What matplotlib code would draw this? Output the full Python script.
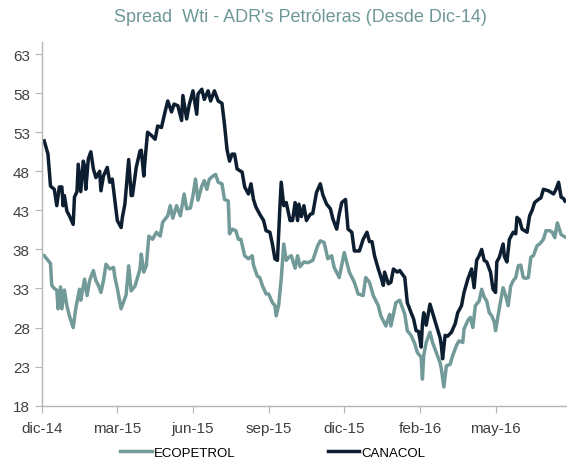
import matplotlib
matplotlib.use("Agg")
import matplotlib.pyplot as plt

# x = trading day since start of Dec-14
tick_days = [0, 60, 120, 180, 240, 300, 360]
tick_labels = ["dic-14", "mar-15", "jun-15", "sep-15", "dic-15", "feb-16", "may-16"]

canacol_day = [2, 5, 7, 10, 12, 14, 16, 17, 18, 20, 22, 25, 26, 28, 29, 31, 33, 34, 35, 37,
               39, 41, 43, 46, 47, 49, 52, 54, 56, 58, 60, 63, 64, 66, 69, 71, 72, 75, 78, 79,
               81, 82, 84, 87, 90, 92, 95, 98, 100, 103, 105, 108, 111, 112, 115, 117, 120, 123,
               124, 127, 129, 132, 134, 137, 140, 143, 145, 147, 149, 151, 153, 155, 159, 161,
               164, 166, 168, 170, 173, 176, 178, 181, 183, 185, 187, 189, 190, 192, 194, 197,
               199, 201, 203, 204, 206, 208, 210, 213, 215, 218, 221, 223, 226, 229, 231, 234,
               236, 238, 241, 243, 246, 248, 252, 255, 258, 260, 262, 264, 267, 269, 271, 272,
               275, 277, 279, 282, 284, 288, 290, 293, 295, 297, 299, 301, 302, 303, 305, 308,
               310, 313, 316, 317, 318, 320, 322, 325, 328, 330, 333, 335, 338, 341, 343, 345,
               347, 349, 351, 353, 356, 358, 360, 361, 363, 366, 367, 369, 371, 374, 376, 377,
               379, 381, 385, 387, 389, 391, 394, 396, 398, 402, 406, 408, 410, 412, 414, 415]
canacol_val = [51.9, 50.2, 46.1, 45.7, 43.6, 46.0, 46.0, 43.6, 44.9, 42.9, 42.3, 41.2, 44.7, 45.4,
               48.9, 45.4, 49.3, 48.7, 45.7, 49.6, 50.5, 48.3, 47.2, 48.0, 45.5, 47.4, 48.5, 46.6,
               47.0, 44.4, 41.7, 40.8, 42.1, 43.8, 49.5, 44.9, 44.9, 48.5, 50.6, 50.7, 47.4, 49.5,
               53.0, 52.6, 52.1, 53.8, 53.6, 55.7, 57.0, 55.6, 56.6, 56.4, 54.5, 57.7, 54.7, 56.5,
               58.3, 55.3, 57.9, 58.5, 57.2, 58.3, 57.0, 58.3, 57.0, 56.7, 54.0, 50.8, 49.3, 50.2,
               50.2, 48.3, 47.9, 46.0, 45.1, 46.4, 44.4, 43.4, 42.5, 41.7, 40.4, 40.2, 38.7, 36.8,
               36.6, 43.6, 46.6, 43.6, 44.0, 41.7, 41.7, 44.0, 41.7, 43.8, 42.2, 43.6, 41.7, 42.5,
               42.6, 45.3, 46.4, 45.0, 43.8, 43.2, 41.9, 40.6, 42.5, 44.0, 44.4, 40.6, 40.2, 37.8,
               37.8, 39.3, 40.2, 39.0, 39.0, 37.2, 35.5, 34.5, 33.4, 35.1, 33.6, 33.8, 35.5, 35.1,
               35.3, 34.4, 31.2, 29.9, 29.1, 27.6, 27.5, 25.5, 28.5, 29.9, 28.3, 31.0, 29.9, 28.3,
               26.7, 25.7, 24.0, 27.0, 26.9, 27.4, 28.5, 29.9, 30.8, 32.5, 34.2, 35.5, 33.1, 36.6,
               37.2, 38.0, 36.6, 36.4, 35.1, 32.9, 32.5, 36.4, 37.0, 38.7, 37.1, 36.4, 39.3, 40.2,
               40.0, 42.1, 41.8, 40.6, 40.2, 42.3, 43.0, 44.0, 44.4, 44.6, 45.7, 45.5, 45.1, 45.7,
               46.6, 44.7, 44.5, 44.2]

ecopetrol_day = [2, 5, 7, 8, 10, 12, 13, 15, 16, 18, 20, 22, 25, 27, 30, 31, 34, 36, 38, 41,
                 43, 45, 47, 49, 51, 54, 57, 58, 60, 63, 65, 67, 69, 71, 74, 78, 79, 81, 83, 85,
                 88, 91, 94, 96, 100, 102, 104, 107, 110, 113, 115, 118, 120, 122, 124, 127, 129,
                 131, 133, 136, 138, 140, 143, 145, 148, 149, 151, 154, 156, 158, 161, 164, 167,
                 168, 171, 173, 175, 178, 180, 183, 185, 186, 188, 190, 192, 194, 196, 198, 201,
                 203, 205, 208, 211, 215, 219, 221, 224, 227, 230, 232, 236, 240, 244, 248, 251,
                 255, 257, 260, 263, 267, 269, 273, 276, 277, 281, 284, 288, 290, 293, 296, 298,
                 301, 302, 303, 305, 308, 310, 313, 316, 317, 319, 321, 324, 326, 329, 331, 334,
                 335, 338, 340, 342, 344, 347, 349, 351, 353, 355, 357, 359, 360, 362, 364, 366,
                 368, 370, 372, 374, 376, 378, 380, 382, 384, 386, 388, 390, 393, 395, 398, 400,
                 403, 405, 407, 409, 412, 414, 415]
ecopetrol_val = [37.2, 36.6, 36.2, 33.4, 33.0, 32.8, 30.4, 33.2, 30.4, 32.8, 30.8, 29.5, 28.0,
                 30.4, 32.9, 31.5, 34.2, 32.1, 34.0, 35.3, 34.0, 33.4, 32.5, 34.0, 36.1, 35.5,
                 35.7, 34.5, 33.0, 30.4, 31.3, 32.2, 35.9, 32.7, 33.3, 35.5, 37.4, 35.1, 35.9,
                 39.7, 39.3, 40.2, 39.7, 41.5, 42.3, 43.6, 42.0, 43.6, 42.3, 45.1, 43.2, 43.3,
                 44.9, 47.0, 44.3, 46.1, 46.8, 45.7, 47.0, 47.4, 47.6, 46.6, 46.4, 44.4, 44.2,
                 40.0, 40.6, 40.4, 39.3, 39.3, 37.2, 36.8, 37.2, 36.0, 34.6, 34.4, 33.4, 32.3,
                 32.3, 31.2, 30.8, 29.5, 30.9, 34.2, 38.7, 36.6, 37.0, 37.2, 35.6, 37.2, 35.8,
                 36.4, 36.3, 36.6, 38.5, 39.1, 38.9, 36.8, 37.2, 35.7, 34.4, 37.6, 35.1, 33.8,
                 32.3, 32.1, 34.4, 33.8, 32.1, 30.8, 29.5, 28.2, 29.7, 28.2, 31.2, 31.5, 29.7,
                 27.6, 27.0, 25.9, 24.8, 24.2, 21.4, 24.4, 26.1, 27.4, 26.1, 24.8, 23.5, 22.7,
                 20.4, 23.1, 23.3, 24.4, 25.7, 26.3, 26.1, 27.8, 28.9, 29.3, 28.0, 30.8, 31.4,
                 32.9, 31.9, 31.4, 29.9, 29.5, 28.7, 27.6, 29.5, 31.4, 33.1, 32.1, 30.8, 33.3,
                 34.0, 34.4, 35.9, 36.0, 34.4, 34.3, 34.4, 37.0, 37.2, 38.5, 38.7, 39.3, 40.4,
                 40.4, 40.2, 39.5, 41.4, 39.9, 39.7, 39.6]

y_ticks = [18, 23, 28, 33, 38, 43, 48, 53, 58, 63]

plt.rcParams['font.family'] = ['Liberation Sans', 'DejaVu Sans']

fig = plt.figure(figsize=(5.67, 4.64), dpi=100)
ax = fig.add_axes([0.0735, 0.1235, 0.925, 0.783])

ax.plot(ecopetrol_day, ecopetrol_val, color="#729a99", lw=2.5, label="ECOPETROL")
ax.plot(canacol_day, canacol_val, color="#0d1e31", lw=2.5, label="CANACOL")

ax.set_xlim(0, 416)
ax.set_ylim(18, 64.5)
ax.set_xticks(tick_days)
ax.set_xticklabels(tick_labels)
ax.set_yticks(y_ticks)

for s in ["top", "right"]:
    ax.spines[s].set_visible(False)
for s in ["left", "bottom"]:
    ax.spines[s].set_color("#b5b5b5")
    ax.spines[s].set_linewidth(1.0)
ax.tick_params(axis="both", colors="#b5b5b5", labelcolor="#404040", labelsize=11, length=5)
ax.tick_params(axis="x", pad=6)

fig.text(0.529, 0.962, "Spread  Wti - ADR's Petróleras (Desde Dic-14)",
         ha="center", va="center", fontsize=13, color="#6e9896")

fig.legend(loc="center", bbox_to_anchor=(0.481, 0.022), ncol=2, frameon=False,
           fontsize=9.5, handlelength=2.4, columnspacing=7.0, handletextpad=0.15)

fig.savefig("out.png", dpi=100)
